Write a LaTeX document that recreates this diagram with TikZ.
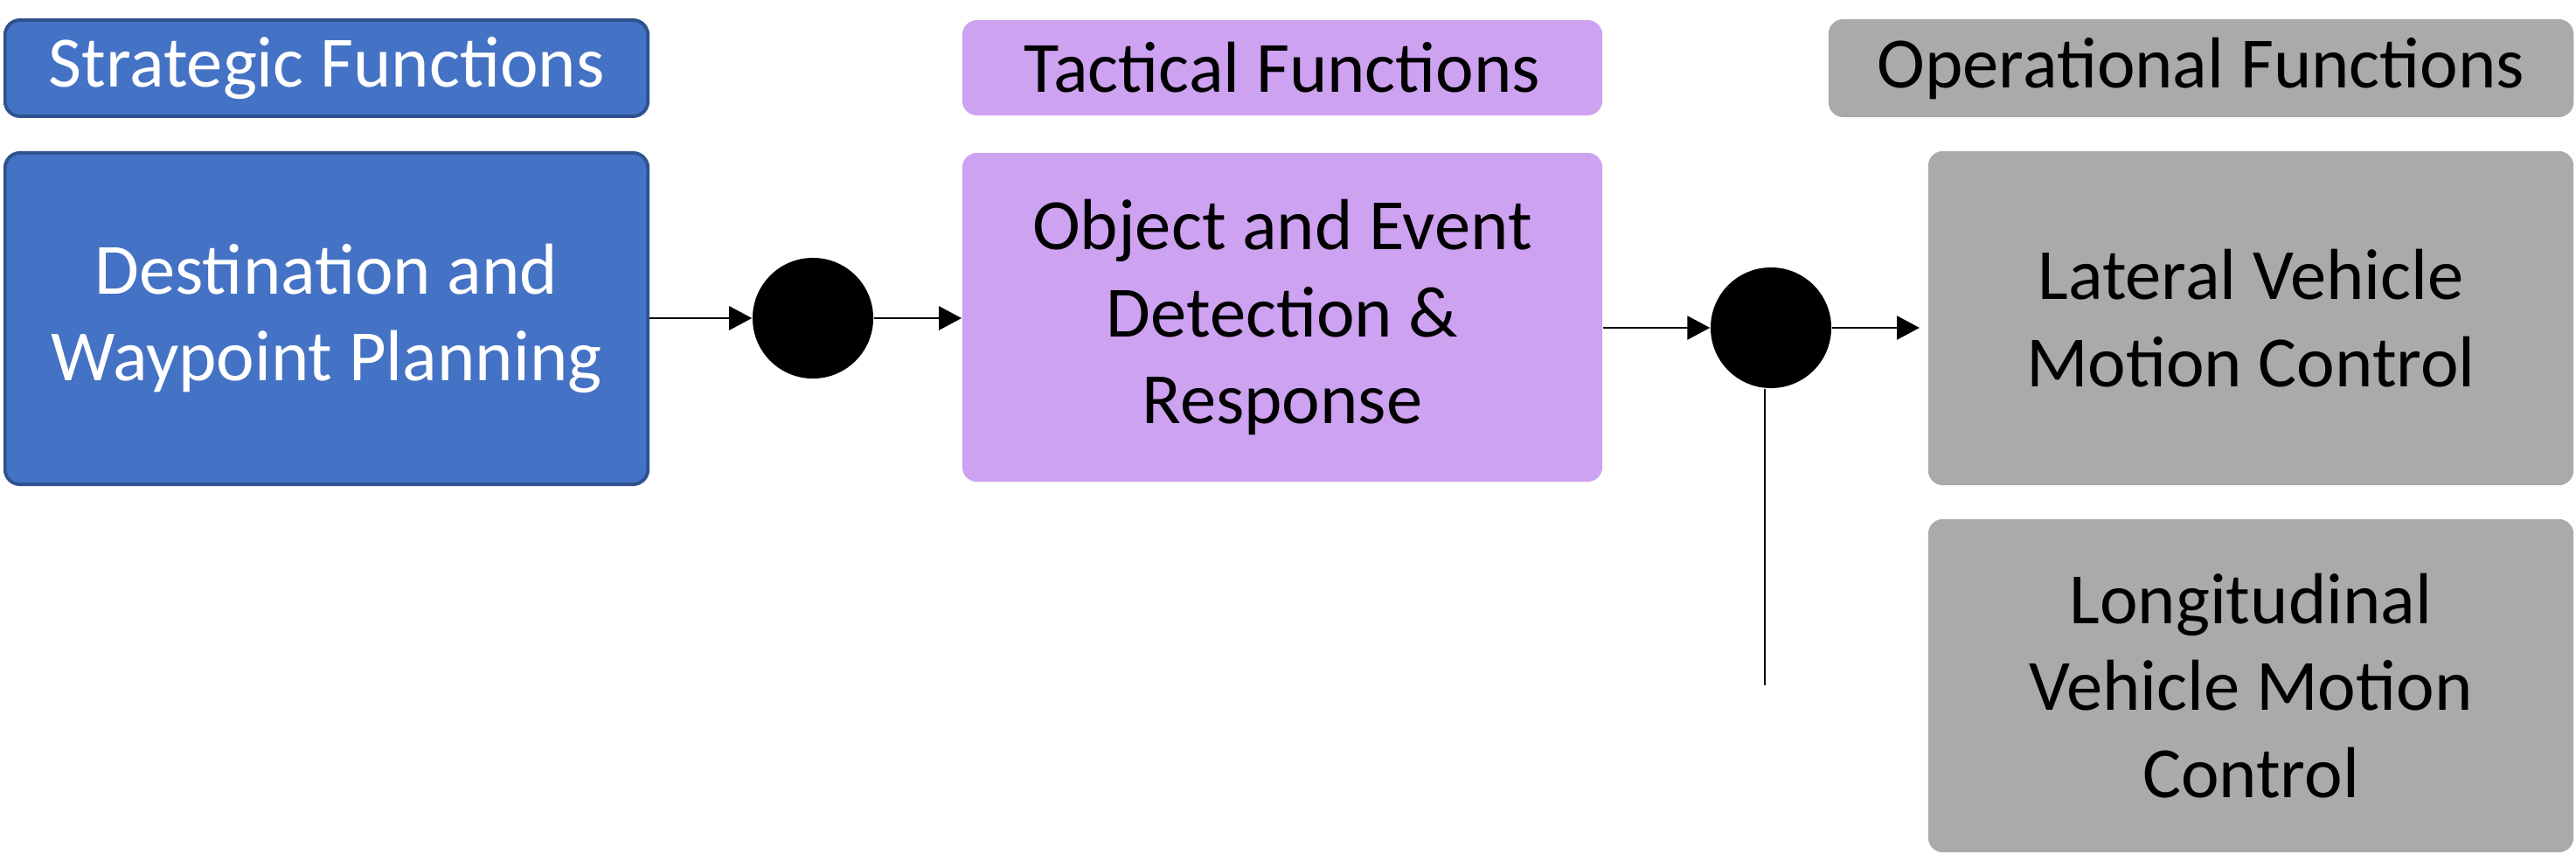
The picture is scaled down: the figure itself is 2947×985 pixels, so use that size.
\documentclass[tikz,border=0pt]{standalone}
\usepackage{fontspec}
\setmainfont{Carlito}
\usetikzlibrary{arrows.meta}
\definecolor{sblue}{HTML}{4472C4}
\definecolor{sblueborder}{HTML}{2F528F}
\definecolor{tpurple}{HTML}{CDA2F0}
\definecolor{ogray}{HTML}{AAAAAA}
\begin{document}
\begin{tikzpicture}[x=0.01cm,y=-0.01cm,
  box/.style={rounded corners=0.17cm, align=center, inner sep=0pt,
    font=\fontsize{23.5}{28.3}\selectfont},
  strat/.style={box, fill=sblue, draw=sblueborder, line width=1.1pt, text=white},
  tact/.style={box, fill=tpurple},
  oper/.style={box, fill=ogray},
  dot/.style={circle, fill=black, inner sep=0pt, minimum size=1.38cm},
  conn/.style={line width=0.8pt, -{Triangle[length=0.26cm,width=0.27cm]}},
  plain/.style={line width=0.8pt}]
\useasboundingbox (0,0) rectangle (2947,985);
% strategic
\node[strat, minimum width=7.35cm, minimum height=1.10cm] (SH) at (373.5,78) {Strategic Functions};
\node[strat, minimum width=7.35cm, minimum height=3.79cm] (DW) at (373.5,364.5) {Destination and\\Waypoint Planning};
% tactical
\node[tact, minimum width=7.32cm, minimum height=1.09cm] (TH) at (1467,77.5) {Tactical Functions};
\node[tact, minimum width=7.32cm, minimum height=3.76cm] (OE) at (1467,363) {Object and Event\\Detection \&\\Response};
% operational
\node[oper, minimum width=8.52cm, minimum height=1.12cm] (OH) at (2518,78) {Operational Functions};
\node[oper, minimum width=7.38cm, minimum height=3.82cm] (LV) at (2575,364) {Lateral Vehicle\\Motion Control};
\node[oper, minimum width=7.38cm, minimum height=3.81cm] (LG) at (2575,784.5) {Longitudinal\\Vehicle Motion\\Control};
% junctions
\node[dot] (C1) at (930,364) {};
\node[dot] (C2) at (2026,375) {};
\coordinate (T2) at (2196,375);
\coordinate (VE) at (2019,784);
% connectors
\draw[conn] (DW.east |- C1) -- (C1.west);
\draw[conn] (C1.east) -- (OE.west |- C1);
\draw[conn] (OE.east |- C2) -- (C2.west);
\draw[conn] (C2.east) -- (T2);
\draw[plain] (VE |- C2.south) -- (VE);
\end{tikzpicture}
\end{document}
